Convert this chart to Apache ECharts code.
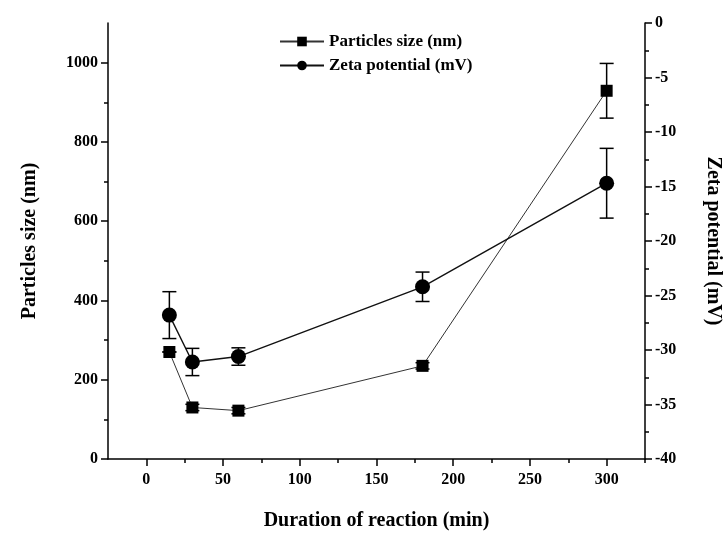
<!DOCTYPE html>
<html>
<head>
<meta charset="utf-8">
<script src="https://cdn.jsdelivr.net/npm/echarts@6/dist/echarts.min.js"></script>
<style>
  html, body { margin: 0; padding: 0; background: #fff; }
  #main { width: 724px; height: 533px; }
</style>
</head>
<body>
<div id="main"></div>
<script>
const times = [15, 30, 60, 180, 300];
const sizeVals = [270, 130, 122, 235, 929];
const sizeErr = [0, 8, 8, 8, 69];
const zetaVals = [-26.8, -31.1, -30.6, -24.2, -14.7];
const zetaErr = [2.15, 1.25, 0.8, 1.35, 3.2];

const xMajor = [0, 50, 100, 150, 200, 250, 300];
const xMinor = [25, 75, 125, 175, 225, 275, 325];
const yMajor = [0, 200, 400, 600, 800, 1000];
const yMinor = [100, 300, 500, 700, 900];

const font = 'Liberation Serif';
const chart = echarts.init(document.getElementById('main'));

// error bar: vertical line + two caps
function errBar(params, api) {
  const x = api.value(0);
  const top = api.coord([x, api.value(2)]);
  const bot = api.coord([x, api.value(1)]);
  const w = 7;
  const st = { stroke: '#000', lineWidth: 1.5 };
  return {
    type: 'group',
    children: [
      { type: 'line', shape: { x1: top[0], y1: top[1], x2: bot[0], y2: bot[1] }, style: st },
      { type: 'line', shape: { x1: top[0] - w, y1: top[1], x2: top[0] + w, y2: top[1] }, style: st },
      { type: 'line', shape: { x1: bot[0] - w, y1: bot[1], x2: bot[0] + w, y2: bot[1] }, style: st }
    ]
  };
}

const sizeBars = times.map((t, i) => [t, sizeVals[i] - sizeErr[i], sizeVals[i] + sizeErr[i]]);
const zetaBars = times.map((t, i) => [t, zetaVals[i] - zetaErr[i], zetaVals[i] + zetaErr[i]]);

const lbl = { color: '#000', fontFamily: font, fontWeight: 'bold', fontSize: 16, formatter: v => String(v) };
const axLine = { show: true, onZero: false, lineStyle: { color: '#000', width: 1.5 } };
const noLine = { show: false, onZero: false };
const tickSt = { color: '#000', width: 1.5 };

const option = {
  animation: false,
  backgroundColor: '#fff',
  grid: { left: 108, right: 79, top: 23, bottom: 74, outerBoundsMode: 'none', containLabel: false },
  legend: {
    orient: 'vertical',
    left: 274,
    top: 28,
    itemWidth: 44,
    itemHeight: 12,
    itemGap: 7,
    data: ['Particles size (nm)', 'Zeta potential (mV)'],
    textStyle: { color: '#000', fontFamily: font, fontWeight: 'bold', fontSize: 17 }
  },
  xAxis: [
    {
      type: 'value', min: -25, max: 325, position: 'bottom',
      name: 'Duration of reaction (min)', nameLocation: 'middle', nameGap: 52,
      nameTextStyle: { color: '#000', fontFamily: font, fontWeight: 'bold', fontSize: 20 },
      axisLine: axLine,
      axisTick: { show: true, customValues: xMajor, length: 7, lineStyle: tickSt },
      axisLabel: Object.assign({ customValues: xMajor, margin: 13 }, lbl),
      splitLine: { show: false }
    },
    {
      type: 'value', min: -25, max: 325, position: 'bottom',
      axisLine: noLine,
      axisTick: { show: true, customValues: xMinor, length: 4, lineStyle: tickSt },
      axisLabel: { show: false },
      splitLine: { show: false }
    }
  ],
  yAxis: [
    {
      type: 'value', min: 0, max: 1100, position: 'left',
      name: 'Particles size (nm)', nameLocation: 'middle', nameGap: 68,
      nameTextStyle: { color: '#000', fontFamily: font, fontWeight: 'bold', fontSize: 20 },
      axisLine: axLine,
      axisTick: { show: true, customValues: yMajor, length: 7, lineStyle: tickSt },
      axisLabel: Object.assign({ customValues: yMajor, margin: 10 }, lbl),
      splitLine: { show: false }
    },
    {
      type: 'value', min: -40, max: 0, interval: 5, position: 'right',
      name: 'Zeta potential (mV)', nameLocation: 'middle', nameGap: 58, nameRotate: -90,
      nameTextStyle: { color: '#000', fontFamily: font, fontWeight: 'bold', fontSize: 20 },
      axisLine: axLine,
      axisTick: { show: true, length: 7, lineStyle: tickSt },
      minorTick: { show: true, splitNumber: 2, length: 4, lineStyle: tickSt },
      axisLabel: Object.assign({ margin: 10 }, lbl),
      splitLine: { show: false }
    },
    {
      type: 'value', min: 0, max: 1100, position: 'left',
      axisLine: noLine,
      axisTick: { show: true, customValues: yMinor, length: 4, lineStyle: tickSt },
      axisLabel: { show: false },
      splitLine: { show: false }
    }
  ],
  series: [
    {
      type: 'custom', name: 'sizeErr', xAxisIndex: 0, yAxisIndex: 0,
      renderItem: errBar, data: sizeBars, encode: { x: 0, y: [1, 2] }, z: 1, silent: true
    },
    {
      type: 'custom', name: 'zetaErr', xAxisIndex: 0, yAxisIndex: 1,
      renderItem: errBar, data: zetaBars, encode: { x: 0, y: [1, 2] }, z: 1, silent: true
    },
    {
      name: 'Particles size (nm)', type: 'line', xAxisIndex: 0, yAxisIndex: 0,
      data: times.map((t, i) => [t, sizeVals[i]]),
      symbol: 'rect', symbolSize: 12,
      itemStyle: { color: '#000' },
      lineStyle: { color: '#333', width: 1 },
      z: 3
    },
    {
      name: 'Zeta potential (mV)', type: 'line', xAxisIndex: 0, yAxisIndex: 1,
      data: times.map((t, i) => [t, zetaVals[i]]),
      symbol: 'circle', symbolSize: 15,
      itemStyle: { color: '#000' },
      lineStyle: { color: '#111', width: 1.4 },
      z: 3
    }
  ]
};

chart.setOption(option);
</script>
</body>
</html>
